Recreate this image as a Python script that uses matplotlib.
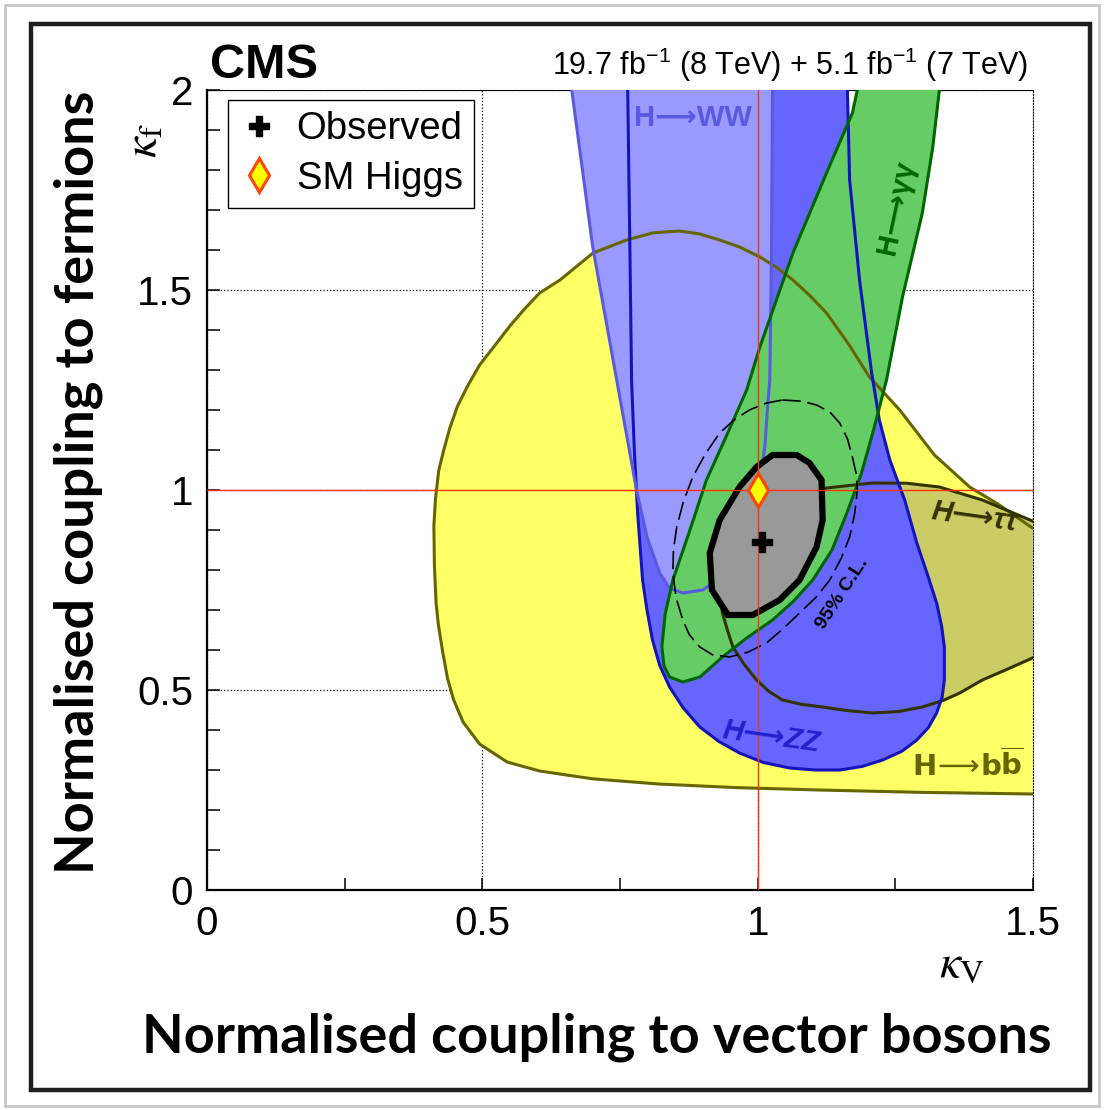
import numpy as np
import matplotlib
matplotlib.use("Agg")
import matplotlib.pyplot as plt
from matplotlib.patches import Polygon, Rectangle
from matplotlib.lines import Line2D

plt.rcParams["font.family"] = ["Liberation Sans", "DejaVu Sans"]
plt.rcParams["mathtext.fontset"] = "custom"
plt.rcParams["mathtext.rm"] = "Liberation Sans"
plt.rcParams["mathtext.bf"] = "Liberation Sans:bold"
plt.rcParams["mathtext.it"] = "Liberation Sans:italic"

# 68% CL contours per decay channel, (kappa_V, kappa_f)
bb_kv = [1.60, 1.499, 1.439, 1.385, 1.321, 1.258, 1.203, 1.165, 1.125, 1.094, 1.064, 1.034,
         1.004, 0.968, 0.931, 0.895, 0.858, 0.810, 0.762, 0.701, 0.641, 0.604, 0.575, 0.550,
         0.522, 0.495, 0.474, 0.455, 0.441, 0.430, 0.421, 0.415, 0.412, 0.413, 0.416, 0.420,
         0.428, 0.437, 0.448, 0.465, 0.495, 0.545, 0.604, 0.700, 0.820, 0.960, 1.111, 1.300,
         1.499, 1.60]
bb_kf = [0.86, 0.905, 0.9625, 1.0075, 1.0875, 1.20, 1.2825, 1.365, 1.4425, 1.487, 1.525, 1.557,
         1.5825, 1.607, 1.625, 1.640, 1.6475, 1.643, 1.625, 1.5925, 1.525, 1.4925, 1.45, 1.41,
         1.36, 1.3125, 1.262, 1.21, 1.155, 1.10, 1.05, 0.98, 0.91, 0.81, 0.7175, 0.665,
         0.595, 0.5275, 0.475, 0.42, 0.365, 0.32, 0.2975, 0.278, 0.265, 0.256, 0.25, 0.244,
         0.24, 0.235]

tt_kv = [1.60, 1.499, 1.408, 1.330, 1.270, 1.209, 1.125, 1.058, 1.004, 0.975, 0.955, 0.936,
         0.931, 0.932, 0.936, 0.945, 0.955, 0.975, 0.998, 1.020, 1.045, 1.080, 1.118, 1.160,
         1.209, 1.255, 1.299, 1.337, 1.367, 1.408, 1.455, 1.499, 1.60]
tt_kf = [0.89, 0.9225, 0.975, 1.0075, 1.017, 1.0175, 1.005, 0.9825, 0.95, 0.922, 0.8925, 0.8325,
         0.775, 0.735, 0.6925, 0.65, 0.6075, 0.565, 0.525, 0.497, 0.475, 0.464, 0.4575, 0.449,
         0.4425, 0.446, 0.4575, 0.474, 0.4925, 0.525, 0.553, 0.58, 0.64]

zz_kv = [0.762, 0.764, 0.768, 0.771, 0.776, 0.782, 0.791, 0.799, 0.809, 0.822, 0.840, 0.865,
         0.895, 0.930, 0.967, 1.010, 1.058, 1.105, 1.149, 1.190, 1.227, 1.262, 1.289, 1.310,
         1.325, 1.335, 1.339, 1.339, 1.334, 1.325, 1.308, 1.289, 1.267, 1.240, 1.221, 1.207,
         1.185, 1.167, 1.163, 1.163]
zz_kf = [2.10, 2.00, 1.60, 1.275, 1.10, 0.9425, 0.775, 0.70, 0.625, 0.562, 0.5075, 0.455,
         0.4075, 0.371, 0.3425, 0.319, 0.305, 0.300, 0.30, 0.309, 0.325, 0.347, 0.375, 0.406,
         0.4425, 0.482, 0.525, 0.6075, 0.66, 0.7175, 0.79, 0.8675, 0.975, 1.075, 1.175, 1.2925,
         1.525, 1.775, 2.00, 2.10]

ww_kv = [0.660, 0.6624, 0.7005, 0.744, 0.780, 0.799, 0.822, 0.840, 0.864, 0.900, 0.936, 0.967,
         0.989, 1.004, 1.013, 1.018, 1.022, 1.025, 1.027, 1.030]
ww_kf = [2.10, 2.00, 1.6075, 1.275, 1.00, 0.8825, 0.7925, 0.755, 0.7425, 0.75, 0.7825, 0.85,
         0.925, 1.025, 1.1075, 1.2075, 1.275, 1.575, 2.00, 2.10]

gg_kv = [1.185, 1.181, 1.172, 1.125, 1.064, 1.004, 0.980, 0.944, 0.907, 0.877, 0.846, 0.832,
         0.826, 0.830, 0.840, 0.864, 0.895, 0.936, 0.980, 1.027, 1.065, 1.100, 1.135, 1.162,
         1.188, 1.209, 1.234, 1.263, 1.299, 1.318, 1.330, 1.335]
gg_kf = [2.10, 2.00, 1.9425, 1.7925, 1.5925, 1.3575, 1.25, 1.1375, 1.025, 0.90, 0.775, 0.69,
         0.6075, 0.56, 0.5325, 0.52, 0.5325, 0.5825, 0.63, 0.675, 0.722, 0.775, 0.85, 0.9425,
         1.04, 1.1425, 1.275, 1.4825, 1.6925, 1.8575, 2.00, 2.10]

# combined fit: 68% (filled) and 95% (dashed) contours
obs68_kv = [1.027, 1.071, 1.094, 1.116, 1.118, 1.107, 1.076, 1.040, 0.991, 0.946, 0.917, 0.913,
            0.931, 0.967, 0.998]
obs68_kf = [1.0875, 1.0875, 1.0675, 1.025, 0.925, 0.8575, 0.775, 0.725, 0.6875, 0.6875, 0.75,
            0.8425, 0.925, 1.0075, 1.0575]
obs95_kv = [1.045, 1.080, 1.107, 1.131, 1.149, 1.163, 1.172, 1.179, 1.181, 1.176, 1.167, 1.152,
            1.131, 1.106, 1.076, 1.046, 1.016, 0.983, 0.949, 0.918, 0.895, 0.876, 0.864, 0.852,
            0.846, 0.847, 0.853, 0.865, 0.882, 0.905, 0.931, 0.957, 0.985, 1.015]
obs95_kf = [1.225, 1.222, 1.2125, 1.195, 1.1675, 1.128, 1.0825, 1.04, 1.00, 0.94, 0.8825, 0.83,
            0.775, 0.732, 0.6925, 0.653, 0.6175, 0.595, 0.5825, 0.588, 0.6075, 0.638, 0.675,
            0.73, 0.7925, 0.85, 0.9075, 0.97, 1.0325, 1.09, 1.1425, 1.175, 1.20, 1.217]

best_fit = (1.007, 0.87)
sm_point = (1.0, 1.0)

fig = plt.figure(figsize=(11.04, 11.10), dpi=100)
ax = fig.add_axes([207 / 1104, 1 - 890 / 1110, 826 / 1104, 800 / 1110])

def region(kv, kf, face, edge, z, lw=2.2):
    pts = np.column_stack([kv, kf])
    ax.add_patch(Polygon(pts, closed=True, facecolor=face, edgecolor="none", zorder=z))
    ax.add_patch(Polygon(pts, closed=True, fill=False, edgecolor=edge, lw=lw, zorder=7,
                         joinstyle="round"))

region(bb_kv, bb_kf, "#ffff66", "#666600", 2)
region(tt_kv, tt_kf, "#cccc66", "#333300", 3)
region(zz_kv, zz_kf, "#6666ff", "#1414bb", 4)
region(ww_kv, ww_kf, "#9999ff", "#5a5ae0", 5)
region(gg_kv, gg_kf, "#66cc66", "#006600", 6)

ax.add_patch(Polygon(np.column_stack([obs68_kv, obs68_kf]), closed=True,
                     facecolor="#999999", edgecolor="black", lw=4.5, zorder=9))
ax.add_patch(Polygon(np.column_stack([obs95_kv, obs95_kf]), closed=True, fill=False,
                     edgecolor="black", lw=1.2, linestyle=(0, (11, 4)), zorder=10))

ax.axvline(1.0, color="#ff3300", lw=1.0, zorder=12)
ax.axhline(1.0, color="#ff3300", lw=1.0, zorder=12)

ax.plot(*best_fit, marker="P", color="black", markersize=14, ls="none", zorder=14)
ax.plot(*sm_point, marker="d", markerfacecolor="#ffff00", markeredgecolor="#ff4400",
        markeredgewidth=2.2, markersize=17, ls="none", zorder=14)

# channel labels
ax.text(0.882, 1.93, "H⟶WW", color="#5a5ae0", fontsize=21, fontweight="bold",
        ha="center", va="center", zorder=13)
ax.text(1.252, 1.7075, "H⟶γγ", color="#006600", fontsize=21, fontweight="bold",
        rotation=78, ha="center", va="center", zorder=13)
ax.text(1.394, 0.9325, "H⟶ττ", color="#333300", fontsize=21, fontweight="bold",
        fontstyle="italic", rotation=-8, ha="center", va="center", zorder=13)
ax.text(1.381, 0.3125, r"$\mathbf{H}\!\longrightarrow\!\mathbf{b}\overline{\mathbf{b}}$",
        color="#666600", fontsize=21, ha="center", va="center", zorder=13,
        math_fontfamily="dejavusans")
ax.text(1.025, 0.3825, "H⟶ZZ", color="#2222cc", fontsize=21, fontweight="bold",
        fontstyle="italic", rotation=-8, ha="center", va="center", zorder=13)
ax.text(1.154, 0.7425, "95% C.L.", color="black", fontsize=14, fontweight="bold",
        rotation=57, ha="center", va="center", zorder=13)

ax.set_xlim(0, 1.5)
ax.set_ylim(0, 2)
ax.set_xticks([0, 0.5, 1, 1.5])
ax.set_xticklabels(["0", "0.5", "1", "1.5"])
ax.set_xticks(np.arange(0, 1.51, 0.25), minor=True)
ax.set_yticks([0, 0.5, 1, 1.5, 2])
ax.set_yticklabels(["0", "0.5", "1", "1.5", "2"])
ax.set_yticks(np.arange(0, 2.01, 0.1), minor=True)
ax.tick_params(axis="x", which="both", direction="in", length=8.6, width=1.1,
               labelsize=29, pad=11, top=False)
ax.tick_params(axis="y", which="both", direction="in", length=9.4, width=1.1,
               labelsize=29, pad=10, right=False)
ax.grid(True, which="major", linestyle=":", color="black", lw=0.9)
ax.set_axisbelow(True)
for s in ["left", "bottom"]:
    ax.spines[s].set_linewidth(1.6)
ax.spines["top"].set_linewidth(0.8)
ax.spines["right"].set_linewidth(0.8)
ax.spines["right"].set_linestyle(":")

leg_handles = [
    Line2D([], [], marker="P", color="black", markersize=14, ls="none"),
    Line2D([], [], marker="d", markerfacecolor="#ffff00", markeredgecolor="#ff4400",
           markeredgewidth=2.2, markersize=17, ls="none"),
]
leg = ax.legend(leg_handles, ["Observed", "SM Higgs"], loc="upper left",
                bbox_to_anchor=(0.0254, 0.9875), borderaxespad=0, fontsize=27.5,
                frameon=True, fancybox=False, edgecolor="black", framealpha=1,
                borderpad=0.3, labelspacing=0.35, handlelength=1.0, handletextpad=0.5)
leg.get_frame().set_linewidth(1.0)
leg.set_zorder(20)

# header texts
fig.text(210 / 1104, 1 - 65 / 1110, "CMS", fontsize=35, fontweight="bold",
         ha="left", va="center")
fig.text(1028 / 1104, 1 - 65 / 1110,
         r"19.7 fb$^{-1}$ (8 TeV) + 5.1 fb$^{-1}$ (7 TeV)",
         fontsize=22, ha="right", va="center")

fig.text(145 / 1104, 1 - 140 / 1110, r"$\kappa_\mathrm{f}$", fontsize=34,
         rotation=90, ha="center", va="center", math_fontfamily="stix")
fig.text(962 / 1104, 1 - 965 / 1110, r"$\kappa_\mathrm{V}$", fontsize=34,
         ha="center", va="center", math_fontfamily="stix")

fig.text(78 / 1104, 1 - 482 / 1110, "Normalised coupling to fermions",
         family="Lato", fontweight="bold", fontsize=39, rotation=90,
         ha="center", va="center")
fig.text(597 / 1104, 1 - 1037 / 1110, "Normalised coupling to vector bosons",
         family="Lato", fontweight="bold", fontsize=39, ha="center", va="center")

# frames around the whole slide
fig.add_artist(Rectangle((5 / 1104, 4 / 1110), 1094 / 1104, 1101 / 1110,
                         transform=fig.transFigure, fill=False, edgecolor="#c8c8c8", lw=2))
fig.add_artist(Rectangle((31 / 1104, 20 / 1110), 1059 / 1104, 1066 / 1110,
                         transform=fig.transFigure, fill=False, edgecolor="#1e1e1e", lw=3.2))

fig.savefig("out.png", dpi=100)
